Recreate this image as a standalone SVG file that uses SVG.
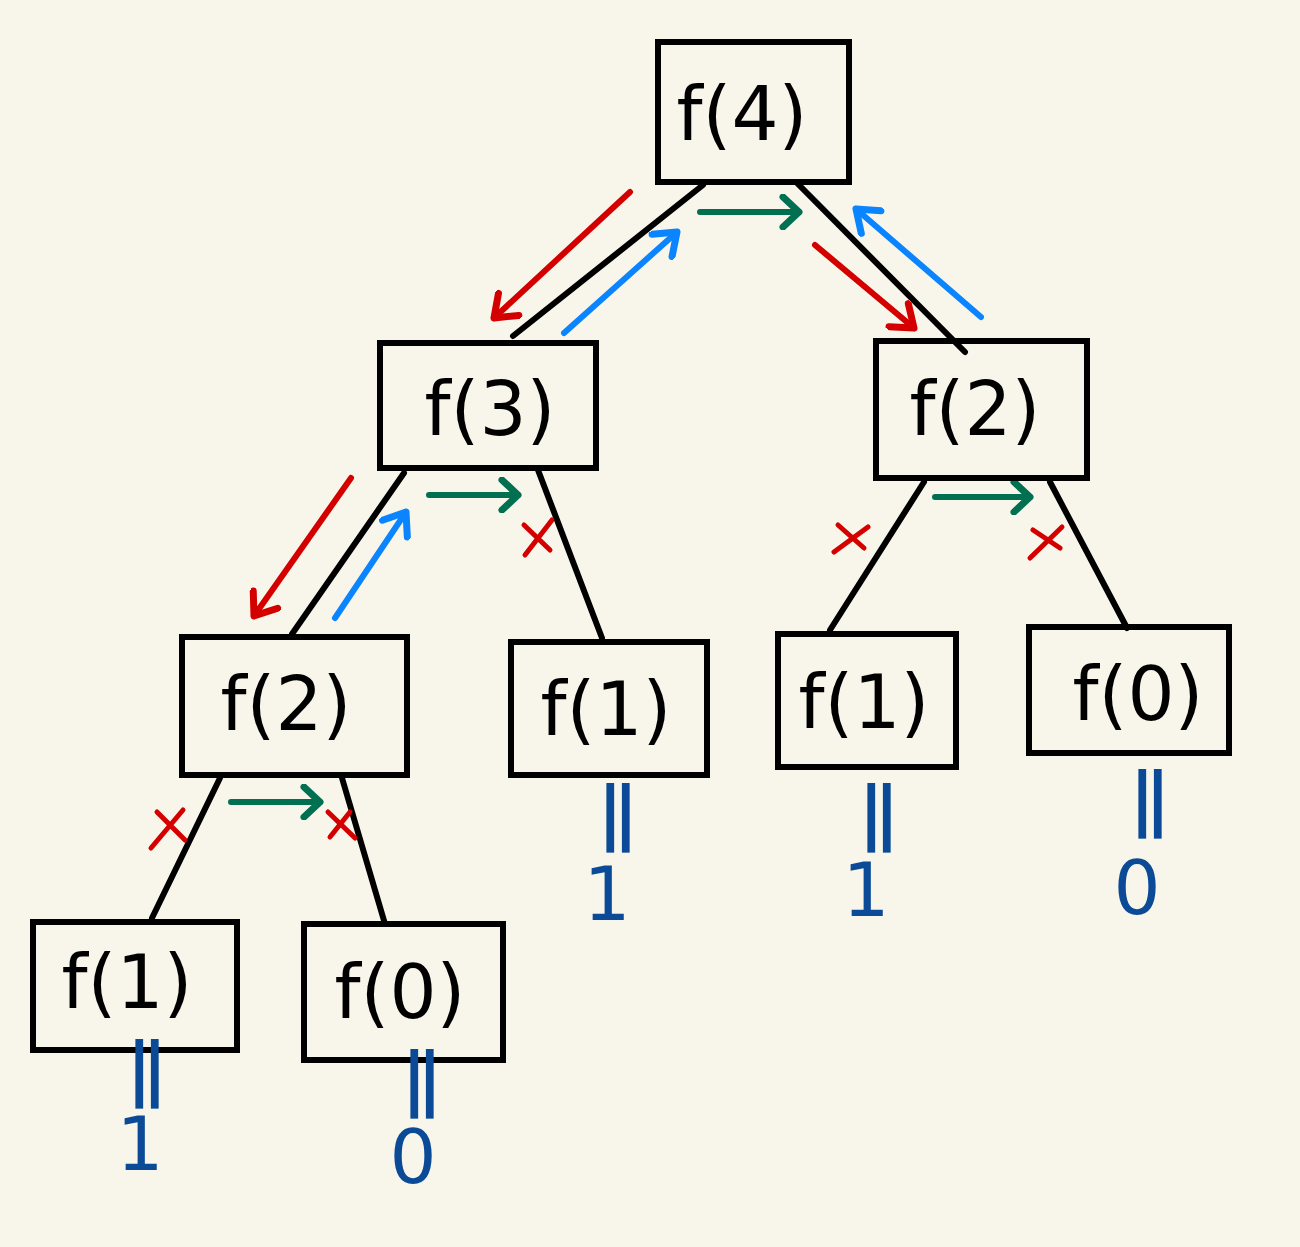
<svg xmlns="http://www.w3.org/2000/svg" width="1300" height="1247" viewBox="0 0 1300 1247">
<style>
.box{fill:none;stroke:#000;stroke-width:6}
.edge{stroke:#000;stroke-width:6;stroke-linecap:round;fill:none}
.lbl{font-family:"DejaVu Sans",sans-serif;font-size:74px;fill:#000;text-anchor:middle}
.val{font-family:"DejaVu Sans",sans-serif;font-size:74px;fill:#0b4a96;text-anchor:middle}
.eq{font-family:"DejaVu Sans",sans-serif;font-size:70px;font-weight:bold;fill:#0b4a96;text-anchor:middle;letter-spacing:-10px}
.red{stroke:#d40000;stroke-width:6;stroke-linecap:round;fill:none}
.blue{stroke:#0a84ff;stroke-width:6;stroke-linecap:round;fill:none}
.green{stroke:#007050;stroke-width:6;stroke-linecap:round;fill:none}
.x{stroke:#d40000;stroke-width:5;stroke-linecap:round;fill:none}
</style>
<defs>
<marker id="mr" viewBox="-24 -18 30 36" refX="0" refY="0" markerWidth="30" markerHeight="36" markerUnits="userSpaceOnUse" orient="auto"><path d="M-20,-15 L0,0 L-20,15" fill="none" stroke="#d40000" stroke-width="7" stroke-linecap="round" stroke-linejoin="round"/></marker>
<marker id="mb" viewBox="-24 -18 30 36" refX="0" refY="0" markerWidth="30" markerHeight="36" markerUnits="userSpaceOnUse" orient="auto"><path d="M-20,-15 L0,0 L-20,15" fill="none" stroke="#0a84ff" stroke-width="7" stroke-linecap="round" stroke-linejoin="round"/></marker>
<marker id="mg" viewBox="-24 -18 30 36" refX="0" refY="0" markerWidth="30" markerHeight="36" markerUnits="userSpaceOnUse" orient="auto"><path d="M-16,-15 L0,0 L-16,15" fill="none" stroke="#007050" stroke-width="7" stroke-linecap="round" stroke-linejoin="round"/></marker>
</defs>
<rect width="1300" height="1247" fill="#f8f6ea"/>
<g id="connectors">
<line class="edge" x1="703" y1="185" x2="513" y2="336"/>
<line class="edge" x1="797" y1="183" x2="965" y2="352"/>
<line class="edge" x1="404" y1="473" x2="292" y2="634"/>
<line class="edge" x1="538" y1="470" x2="602" y2="638"/>
<line class="edge" x1="924" y1="482" x2="830" y2="630"/>
<line class="edge" x1="1050" y1="482" x2="1127" y2="628"/>
<line class="edge" x1="220" y1="778" x2="152" y2="918"/>
<line class="edge" x1="342" y1="778" x2="385" y2="924"/>
<line class="red" x1="630" y1="192" x2="494" y2="318" marker-end="url(#mr)"/>
<line class="red" x1="815" y1="245" x2="914" y2="328" marker-end="url(#mr)"/>
<line class="red" x1="351" y1="478" x2="254" y2="616" marker-end="url(#mr)"/>
<line class="blue" x1="564" y1="333" x2="677" y2="232" marker-end="url(#mb)"/>
<line class="blue" x1="981" y1="317" x2="856" y2="209" marker-end="url(#mb)"/>
<line class="blue" x1="335" y1="618" x2="406" y2="512" marker-end="url(#mb)"/>
<line class="green" x1="700" y1="212" x2="799" y2="212" marker-end="url(#mg)"/>
<line class="green" x1="429" y1="495" x2="518" y2="495" marker-end="url(#mg)"/>
<line class="green" x1="935" y1="497" x2="1030" y2="497" marker-end="url(#mg)"/>
<line class="green" x1="231" y1="802" x2="320" y2="802" marker-end="url(#mg)"/>
<path class="x" d="M524,525 L550,550 M552,520 L525,555"/>
<path class="x" d="M838,525 L864,548 M868,527 L834,552"/>
<path class="x" d="M1033,530 L1060,548 M1062,527 L1030,558"/>
<path class="x" d="M157,812 L185,840 M183,810 L151,848"/>
<path class="x" d="M328,812 L355,838 M350,812 L330,837"/>
</g>
<g id="n4"><rect class="box" x="658" y="42" width="191" height="140"/><text class="lbl" x="742" y="140">f(4)</text></g>
<g id="n3"><rect class="box" x="380" y="343" width="216" height="125"/><text class="lbl" x="490" y="435">f(3)</text></g>
<g id="n2r"><rect class="box" x="876" y="341" width="211" height="137"/><text class="lbl" x="975" y="435">f(2)</text></g>
<g id="n2l"><rect class="box" x="182" y="637" width="225" height="138"/><text class="lbl" x="286" y="730">f(2)</text></g>
<g id="n1m"><rect class="box" x="511" y="642" width="196" height="133"/><text class="lbl" x="606" y="735">f(1)</text></g>
<g id="n1r"><rect class="box" x="778" y="634" width="178" height="133"/><text class="lbl" x="864" y="728">f(1)</text></g>
<g id="n0r"><rect class="box" x="1029" y="627" width="200" height="126"/><text class="lbl" x="1138" y="720">f(0)</text></g>
<g id="n1b"><rect class="box" x="33" y="922" width="204" height="128"/><text class="lbl" x="127" y="1008">f(1)</text></g>
<g id="n0b"><rect class="box" x="304" y="924" width="199" height="136"/><text class="lbl" x="400" y="1018">f(0)</text></g>
<g id="values">
<text class="eq" x="142" y="1092">||</text><text class="val" x="140" y="1170">1</text>
<text class="eq" x="417" y="1102">||</text><text class="val" x="413" y="1183">0</text>
<text class="eq" x="613" y="836">||</text><text class="val" x="607" y="920">1</text>
<text class="eq" x="874" y="836">||</text><text class="val" x="866" y="916">1</text>
<text class="eq" x="1145" y="822">||</text><text class="val" x="1137" y="914">0</text>
</g>
</svg>
